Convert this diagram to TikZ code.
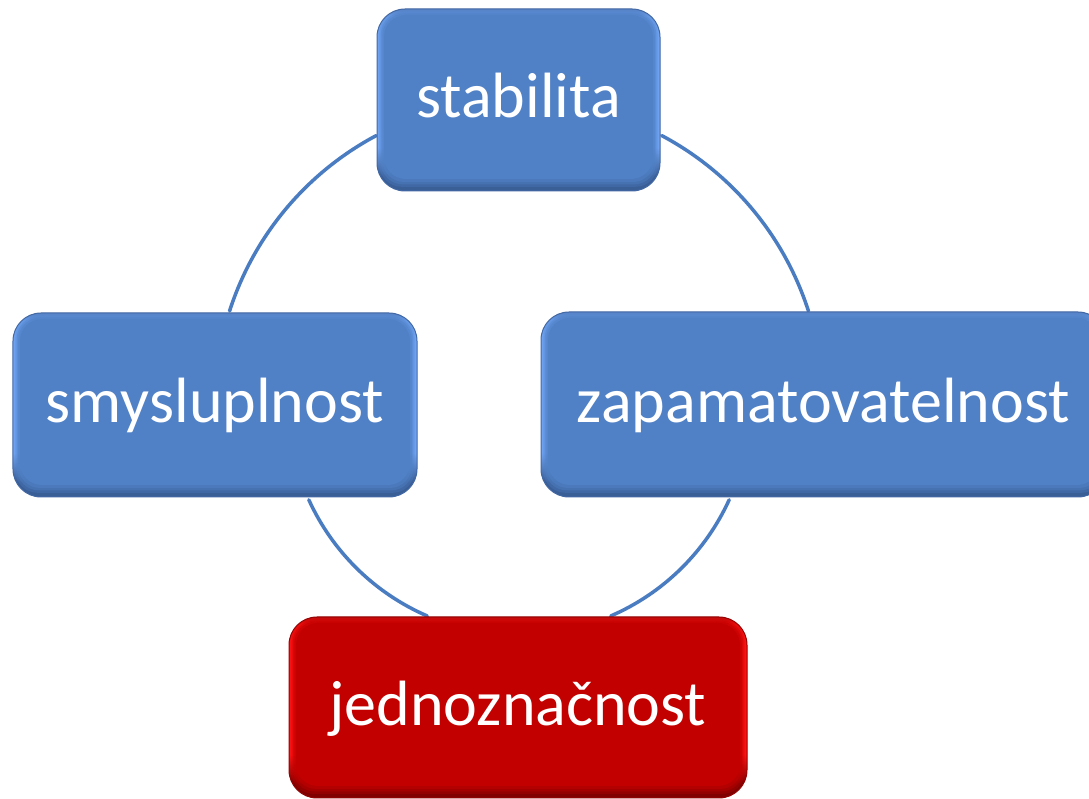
\documentclass[tikz,border=0pt]{standalone}
\usepackage{fontspec}
\setmainfont{Carlito}

% face, rim and shadow colours of the two box kinds
\definecolor{bface}{RGB}{80,129,198}
\definecolor{blight}{RGB}{110,162,240}
\definecolor{bdark}{RGB}{58,94,150}
\definecolor{rface}{RGB}{194,0,0}
\definecolor{rlight}{RGB}{252,18,18}
\definecolor{rdark}{RGB}{128,0,0}
\definecolor{ring}{RGB}{74,124,194}

% rim shading: dark band at the bottom, light rim elsewhere
\pgfdeclareverticalshading{bbevel}{100bp}{color(0bp)=(bdark); color(25bp)=(bdark); color(29bp)=(bdark); color(37bp)=(blight); color(73bp)=(blight); color(75bp)=(bdark!50!blight); color(100bp)=(bdark!50!blight)}
\pgfdeclareverticalshading{rbevel}{100bp}{color(0bp)=(rdark); color(25bp)=(rdark); color(29bp)=(rdark); color(37bp)=(rlight); color(73bp)=(rlight); color(75bp)=(rdark!50!rlight); color(100bp)=(rdark!50!rlight)}

\tikzset{
  box/.style={
    rectangle, rounded corners=28bp, inner sep=0pt,
    draw=#1dark!85!#1light, line width=1bp,
    shading=#1bevel,
    text=white, font=\fontsize{64bp}{76bp}\selectfont,
    text height=46bp, text depth=10bp,
    path picture={
      \foreach \f/\op in {0.35/0.3,0.55/0.4,0.75/0.5,1/1}{
        \fill[#1face, opacity=\op, rounded corners=22bp]
          ([shift={(7*\f,-6*\f)}]path picture bounding box.north west) rectangle
          ([shift={(-7*\f,12*\f)}]path picture bounding box.south east);
      }
    }
  },
  ringarc/.style={draw=ring, line width=3.5bp, line cap=round}
}

\begin{document}
\begin{tikzpicture}[x=1bp, y=1bp]
  \useasboundingbox (0,0) rectangle (1089,799);
  \fill[white] (0,0) rectangle (1089,799);

  % centre of the ring
  \coordinate (c) at (519,395);

  % ring segments between the boxes
  \draw[ringarc] (c) ++(118:304) arc[start angle=118, end angle=162.2, radius=304];
  \draw[ringarc] (c) ++(62:304) arc[start angle=62, end angle=17.8, radius=304];
  \draw[ringarc] (c) ++(204.5:231) arc[start angle=204.5, end angle=246.6, radius=231];
  \draw[ringarc] (c) ++(335.5:231) arc[start angle=335.5, end angle=293.4, radius=231];

  % boxes
  \node[box=b, minimum width=283bp, minimum height=182bp] (stab) at (518.5,699) {stabilita};
  \node[box=b, minimum width=404bp, minimum height=184bp] (smys) at (215,394) {smysluplnost};
  \node[box=b, minimum width=565bp, minimum height=185bp] (zap) at (823.5,394.5) {zapamatovatelnost};
  \node[box=r, minimum width=458bp, minimum height=181bp] (jedn) at (518,91.5) {jednoznačnost};
\end{tikzpicture}
\end{document}
